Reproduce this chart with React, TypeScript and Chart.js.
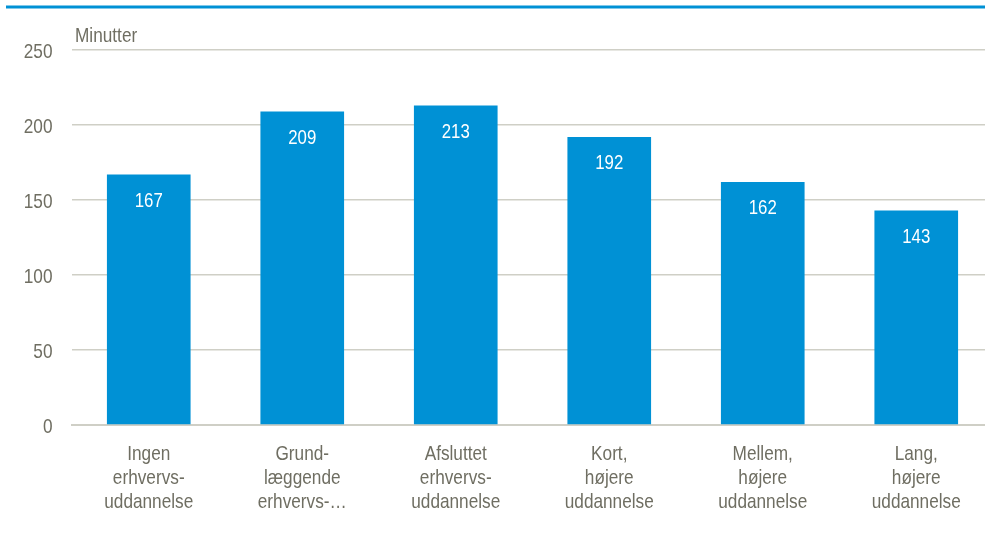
import React, { useEffect, useRef } from "react";
import { Chart, registerables } from "chart.js";

Chart.register(...registerables);

const categories: string[][] = [
  ["Ingen", "erhvervs-", "uddannelse"],
  ["Grund-", "læggende", "erhvervs-…"],
  ["Afsluttet", "erhvervs-", "uddannelse"],
  ["Kort,", "højere", "uddannelse"],
  ["Mellem,", "højere", "uddannelse"],
  ["Lang,", "højere", "uddannelse"],
];
const minutes: number[] = [167, 209, 213, 192, 162, 143];
const yTicks: number[] = [0, 50, 100, 150, 200, 250];
const unitLabel = "Minutter";

const TEXT = "#6f6e62";
const BLUE = "#0091d5";
const GRID = "#cfcfc6";
const FONT = "'Liberation Sans', Arial, sans-serif";
const SQUEEZE = 0.82;

function narrowText(ctx: any, text: string, x: number, y: number, align: string) {
  ctx.save();
  ctx.translate(x, y);
  ctx.scale(SQUEEZE, 1);
  ctx.textAlign = align;
  ctx.textBaseline = "alphabetic";
  ctx.fillText(text, 0, 0);
  ctx.restore();
}

const decorPlugin = {
  id: "decor",
  afterDraw(chart: any) {
    const ctx = chart.ctx;
    const area = chart.chartArea;
    ctx.save();
    // top blue rule
    ctx.strokeStyle = BLUE;
    ctx.lineWidth = 3;
    ctx.beginPath();
    ctx.moveTo(6, 7);
    ctx.lineTo(chart.width, 7);
    ctx.stroke();

    ctx.fillStyle = TEXT;
    ctx.font = `21px ${FONT}`;
    // unit label
    narrowText(ctx, unitLabel, area.left + 3, area.top - 8, "left");
    // y tick labels
    const ys = chart.scales.y;
    yTicks.forEach((v) => {
      narrowText(ctx, String(v), area.left - 19.5, ys.getPixelForValue(v) + 7.5, "right");
    });
    // x tick labels
    const xs = chart.scales.x;
    categories.forEach((lines, i) => {
      const cx = xs.getPixelForValue(i);
      lines.forEach((line, j) => {
        narrowText(ctx, line, cx, area.bottom + 35 + j * 24, "center");
      });
    });
    // value labels
    const meta = chart.getDatasetMeta(0);
    ctx.fillStyle = "#ffffff";
    ctx.font = `20.5px ${FONT}`;
    meta.data.forEach((bar: any, i: number) => {
      narrowText(ctx, String(minutes[i]), bar.x, bar.y + 32, "center");
    });
    ctx.restore();
  },
};

export default function App() {
  const ref = useRef<HTMLCanvasElement>(null);
  useEffect(() => {
    if (!ref.current) return;
    const chart = new Chart(ref.current, {
      type: "bar",
      data: {
        labels: categories,
        datasets: [
          {
            data: minutes,
            backgroundColor: BLUE,
            borderWidth: 0,
            categoryPercentage: 0.545,
            barPercentage: 1,
          },
        ],
      },
      options: {
        animation: false,
        responsive: false,
        maintainAspectRatio: false,
        layout: { padding: { top: 50, right: 0, left: 0, bottom: 0 } },
        plugins: {
          legend: { display: false },
          tooltip: { enabled: false },
        },
        scales: {
          x: {
            grid: { display: false, drawTicks: false },
            border: { color: GRID, width: 2 },
            ticks: { display: false },
            afterFit(scale: any) {
              scale.height = 115;
            },
          },
          y: {
            min: 0,
            max: 250,
            afterBuildTicks(scale: any) {
              scale.ticks = yTicks.map((v) => ({ value: v }));
            },
            grid: { color: GRID, lineWidth: 1.5, drawTicks: false },
            border: { display: false },
            ticks: { display: false },
            afterFit(scale: any) {
              scale.width = 72;
            },
          },
        },
      },
      plugins: [decorPlugin],
    });
    return () => chart.destroy();
  }, []);
  return (
    <div
      style={{
        position: "fixed",
        left: 0,
        top: 0,
        width: 985,
        height: 540,
        overflow: "hidden",
        background: "#fff",
      }}
    >
      <canvas ref={ref} width={993} height={540} style={{ display: "block" }} />
    </div>
  );
}
